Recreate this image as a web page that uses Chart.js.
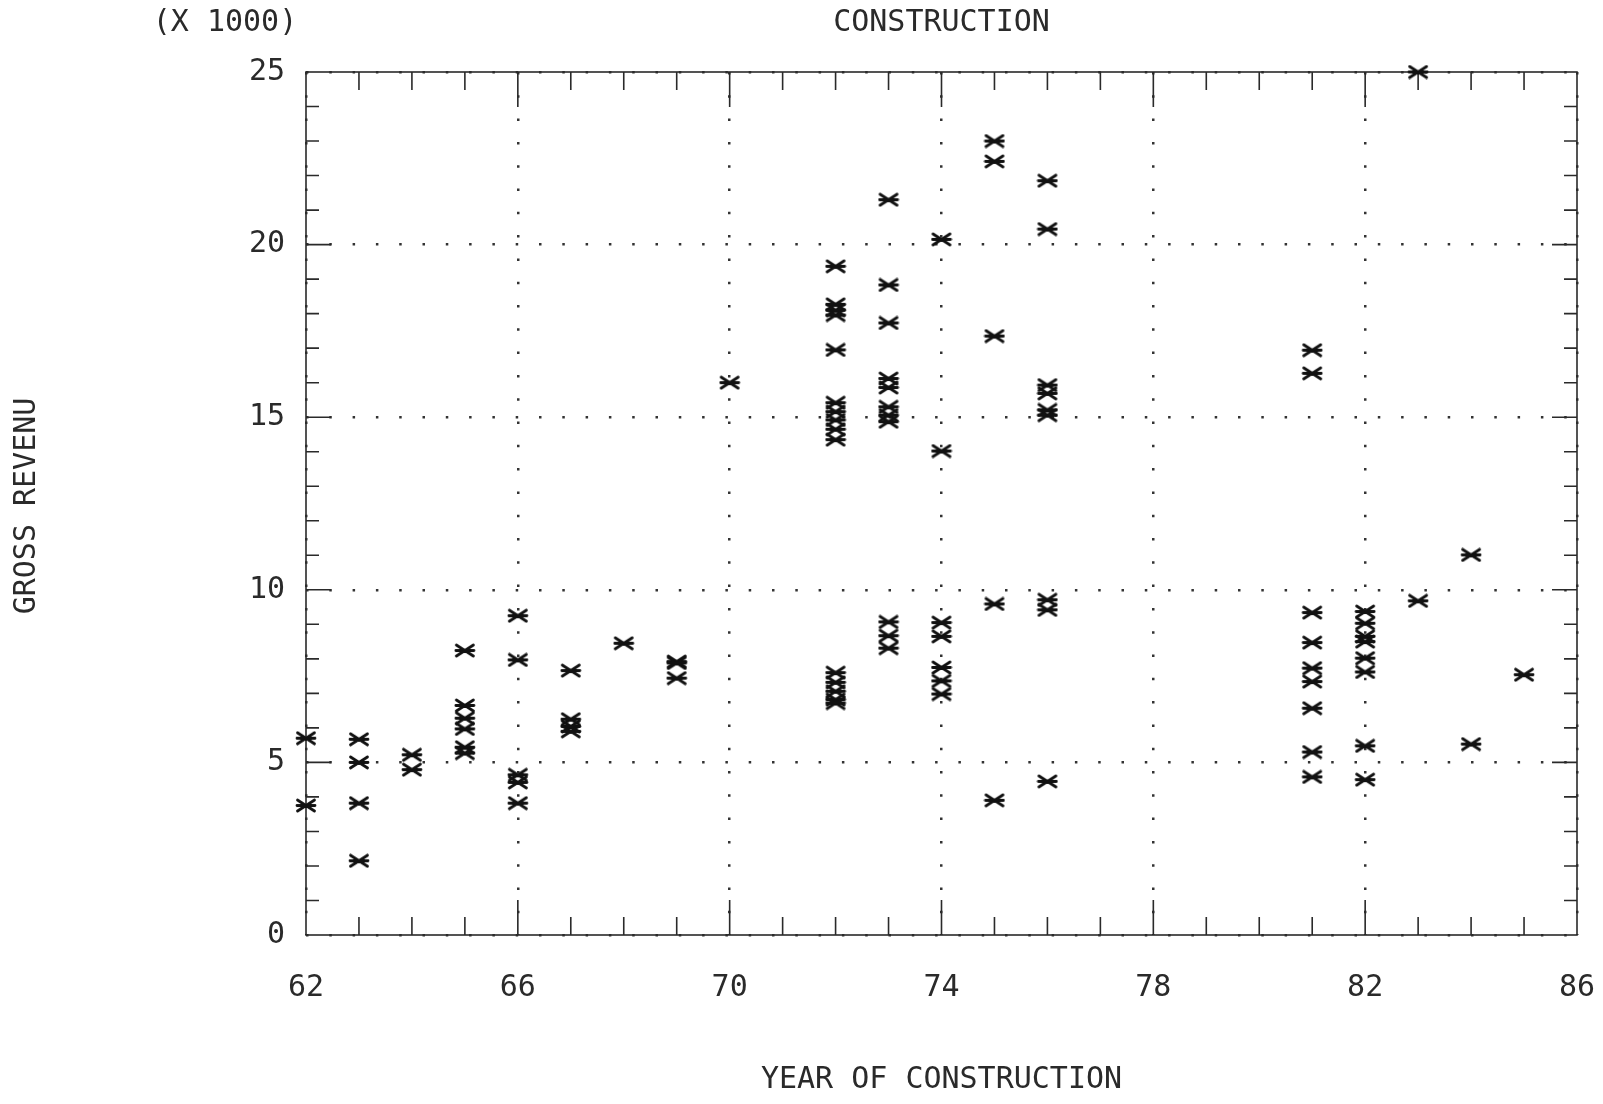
<!DOCTYPE html>
<html>
<head>
<meta charset="utf-8">
<script src="https://cdn.jsdelivr.net/npm/chart.js@4/dist/chart.umd.min.js"></script>
<style>
  html, body { margin: 0; padding: 0; background: #fff; }
  #wrap { width: 1603px; height: 1104px; }
</style>
</head>
<body>
<div id="wrap"><canvas id="scatter" width="1603" height="1104"></canvas></div>
<script>
const ctx = document.getElementById('scatter').getContext('2d');

// year of construction (19xx) and the gross revenue values (x 1000) found for that year
const years = [62, 63, 64, 65, 66, 67, 68, 69, 70, 72, 73, 74, 75, 76, 81, 82, 83, 84, 85];
const revenue = [
    [5.7, 3.75],
    [5.67, 5.0, 3.82, 2.15],
    [5.22, 4.79],
    [8.24, 6.65, 6.28, 5.97, 5.44, 5.27],
    [9.25, 7.97, 4.64, 4.42, 3.82],
    [7.66, 6.25, 6.04, 5.9],
    [8.45],
    [7.92, 7.88, 7.44],
    [16.0],
    [19.37, 18.27, 18.1, 17.96, 16.95, 15.42, 15.16, 14.92, 14.65, 14.35, 7.6, 7.32, 7.06, 6.82, 6.72],
    [21.3, 18.83, 17.73, 16.12, 15.86, 15.3, 15.06, 14.87, 9.07, 8.67, 8.31],
    [20.15, 14.02, 9.05, 8.65, 7.75, 7.36, 6.98],
    [23.0, 22.41, 17.35, 9.59, 3.9],
    [21.85, 20.45, 15.93, 15.69, 15.21, 15.06, 9.71, 9.42, 4.45],
    [16.94, 16.27, 9.34, 8.47, 7.73, 7.34, 6.57, 5.3, 4.58],
    [9.37, 9.03, 8.65, 8.5, 8.02, 7.62, 5.48, 4.5],
    [25.0, 9.68],
    [11.01, 5.53],
    [7.54]
];

const xTicks = [62, 66, 70, 74, 78, 82, 86];
const yTicks = [0, 5, 10, 15, 20, 25];

const FONT = '"DejaVu Sans Mono", "Liberation Mono", monospace';
const INK = '#2a2a2a';

// plotter style marker: an X with a bar through the middle
function makeMarker() {
    const c = document.createElement('canvas');
    c.width = 22;
    c.height = 15;
    const g = c.getContext('2d');
    g.strokeStyle = '#111';
    g.lineWidth = 2.8;
    g.lineCap = 'round';
    g.beginPath();
    g.moveTo(2.5, 2); g.lineTo(19.5, 13);
    g.moveTo(2.5, 13); g.lineTo(19.5, 2);
    g.moveTo(2, 7.5); g.lineTo(20, 7.5);
    g.stroke();
    return c;
}

const points = [];
years.forEach((yr, i) => {
    revenue[i].forEach(v => points.push({ x: yr, y: v }));
});

// frame with inward major/minor ticks on all four sides
const frameTicks = {
    id: 'frameTicks',
    beforeDatasetsDraw(chart) {
        const { ctx, chartArea: a, scales: { x, y } } = chart;
        ctx.save();
        ctx.strokeStyle = INK;
        ctx.lineWidth = 1.6;
        ctx.strokeRect(a.left, a.top, a.right - a.left, a.bottom - a.top);
        ctx.beginPath();
        for (let yr = x.min + 1; yr < x.max; yr++) {
            const px = x.getPixelForValue(yr);
            const len = yr % 4 === 2 ? 35 : 18;
            ctx.moveTo(px, a.bottom); ctx.lineTo(px, a.bottom - len);
            ctx.moveTo(px, a.top); ctx.lineTo(px, a.top + len);
        }
        for (let v = y.min + 1; v < y.max; v++) {
            const py = y.getPixelForValue(v);
            const len = v % 5 === 0 ? 25 : 13;
            ctx.moveTo(a.left, py); ctx.lineTo(a.left + len, py);
            ctx.moveTo(a.right, py); ctx.lineTo(a.right - len, py);
        }
        ctx.stroke();
        ctx.restore();
    }
};

// titles around the plot
const labels = {
    id: 'labels',
    afterDraw(chart) {
        const { ctx, chartArea: a } = chart;
        const cx = (a.left + a.right) / 2;
        ctx.save();
        ctx.fillStyle = INK;
        ctx.font = '30px ' + FONT;
        ctx.textAlign = 'center';
        ctx.textBaseline = 'middle';
        ctx.fillText('CONSTRUCTION', cx, 23);
        ctx.fillText('(X 1000)', 225, 23);
        ctx.fillText('YEAR OF CONSTRUCTION', cx, 1080);
        ctx.translate(27, 506);
        ctx.rotate(-Math.PI / 2);
        ctx.fillText('GROSS REVENU', 0, 0);
        ctx.restore();
    }
};

const dotted = {
    display: true,
    color: '#333',
    lineWidth: 2.5,
    drawTicks: false
};

new Chart(ctx, {
    type: 'scatter',
    data: {
        datasets: [{
            data: points,
            pointStyle: makeMarker(),
            pointRadius: 8,
            pointHoverRadius: 8,
            showLine: false,
            clip: false
        }]
    },
    options: {
        responsive: false,
        animation: false,
        layout: {
            padding: { top: 72, right: 26, left: 0, bottom: 0 }
        },
        plugins: {
            legend: { display: false },
            tooltip: { enabled: false }
        },
        scales: {
            x: {
                type: 'linear',
                min: 62,
                max: 86,
                afterBuildTicks: scale => { scale.ticks = xTicks.map(v => ({ value: v })); },
                afterFit: scale => {
                    scale.height = 169;
                    scale.paddingLeft = 0;
                    scale.paddingRight = 0;
                },
                ticks: {
                    color: INK,
                    font: { family: FONT, size: 30 },
                    padding: 35,
                    maxRotation: 0
                },
                grid: dotted,
                border: { display: false, dash: [2.5, 20.8] }
            },
            y: {
                type: 'linear',
                min: 0,
                max: 25,
                afterBuildTicks: scale => { scale.ticks = yTicks.map(v => ({ value: v })); },
                afterFit: scale => {
                    scale.width = 306;
                    scale.paddingTop = 0;
                    scale.paddingBottom = 0;
                },
                ticks: {
                    color: INK,
                    font: { family: FONT, size: 30 },
                    padding: 21
                },
                grid: dotted,
                border: { display: false, dash: [2.5, 20.8] }
            }
        }
    },
    plugins: [frameTicks, labels]
});
</script>
</body>
</html>
